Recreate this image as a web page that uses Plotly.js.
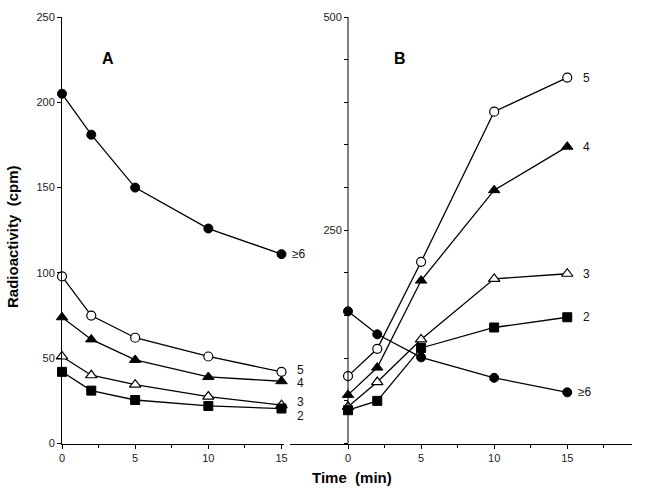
<!DOCTYPE html>
<html>
<head>
<meta charset="utf-8">
<script src="https://cdn.plot.ly/plotly-3.0.1.min.js"></script>
<style>html,body{margin:0;padding:0;background:#fff;}#chart{width:647px;height:496px;}</style>
</head>
<body>
<div id="chart"></div>
<script>
// Time points (min)
const time = [0, 2, 5, 10, 15];

// Panel A
const A_ge6 = [205, 181, 150, 126, 111];
const A_5   = [98, 75, 62, 51, 42];
const A_4   = [74, 61, 49, 39, 36.5];
const A_3   = [51, 40, 34.5, 27.5, 22.5];
const A_2   = [42, 31, 25.5, 22, 20.5];

// Panel B
const B_ge6 = [155, 128, 101, 77, 60];
const B_5   = [79, 111, 213, 389, 429];
const B_4   = [57, 89, 191, 297, 348];
const B_3   = [43, 72, 122, 193, 199];
const B_2   = [39, 50, 112, 136, 148];

const seriesNames = ['≥6', '5', '4', '3', '2'];
const panelA = [A_ge6, A_5, A_4, A_3, A_2];
const panelB = [B_ge6, B_5, B_4, B_3, B_2];

const markerStyles = [
  {symbol: 'circle', color: '#000', line: {color: '#000', width: 1}, size: 9},
  {symbol: 'circle', color: '#fff', line: {color: '#000', width: 1.2}, size: 9},
  {symbol: 'triangle-up', color: '#000', line: {color: '#000', width: 1}, size: 10},
  {symbol: 'triangle-up', color: '#fff', line: {color: '#000', width: 1.2}, size: 10},
  {symbol: 'square', color: '#000', line: {color: '#000', width: 1}, size: 9}
];

const traces = [];
panelA.forEach((vals, i) => traces.push({
  x: time, y: vals, xaxis: 'x', yaxis: 'y', mode: 'lines+markers', name: 'A ' + seriesNames[i],
  line: {color: '#000', width: 1.3}, marker: markerStyles[i], showlegend: false, cliponaxis: false
}));
panelB.forEach((vals, i) => traces.push({
  x: time, y: vals, xaxis: 'x2', yaxis: 'y2', mode: 'lines+markers', name: 'B ' + seriesNames[i],
  line: {color: '#000', width: 1.3}, marker: markerStyles[i], showlegend: false, cliponaxis: false
}));

const tickFont = {family: 'Liberation Sans, Arial, sans-serif', size: 11, color: '#222'};
const labelFont = {family: 'Liberation Sans, Arial, sans-serif', size: 12, color: '#111'};

// Series end labels
const annA_shift = [0, 2, -2, 3, -7];
const annB_shift = [0, 0, 0, 0, 0];
const annotations = [];
panelA.forEach((vals, i) => annotations.push({
  x: time[time.length - 1], y: vals[vals.length - 1], xref: 'x', yref: 'y',
  text: seriesNames[i], showarrow: false, xanchor: 'left', yanchor: 'middle', xshift: i === 0 ? 8 : 13,
  yshift: annA_shift[i], font: labelFont
}));
panelB.forEach((vals, i) => annotations.push({
  x: time[time.length - 1], y: vals[vals.length - 1], xref: 'x2', yref: 'y2',
  text: seriesNames[i], showarrow: false, xanchor: 'left', yanchor: 'middle', xshift: i === 0 ? 9 : 14,
  yshift: annB_shift[i], font: labelFont
}));
annotations.push({x: 108, y: 58, xref: 'paper', yref: 'paper', text: '<b>A</b>', showarrow: false,
  font: {family: 'Liberation Sans, Arial, sans-serif', size: 16, color: '#000'}});
annotations.push({x: 400, y: 58, xref: 'paper', yref: 'paper', text: '<b>B</b>', showarrow: false,
  font: {family: 'Liberation Sans, Arial, sans-serif', size: 16, color: '#000'}});
annotations.push({x: 352, y: 477, xref: 'paper', yref: 'paper', text: '<b>Time  (min)</b>', showarrow: false,
  font: {family: 'Liberation Sans, Arial, sans-serif', size: 15, color: '#000'}});
annotations.push({x: 13, y: 237, xref: 'paper', yref: 'paper', text: '<b>Radioactivity  (cpm)</b>', showarrow: false,
  textangle: -90, font: {family: 'Liberation Sans, Arial, sans-serif', size: 15, color: '#000'}});

// convert pixel positions of paper annotations to paper fractions
const W = 647, H = 496;
annotations.forEach(a => {
  if (a.xref === 'paper') {
    a.x = a.x / W; a.y = 1 - a.y / H;
    a.xanchor = 'center'; a.yanchor = 'middle';
  }
});

const axisCommon = {
  showgrid: false, zeroline: false, showline: true, linecolor: '#000', linewidth: 1,
  ticks: 'outside', tickcolor: '#000', ticklen: 4, tickwidth: 1, tickfont: tickFont
};

const yBottom = 443.5, yTop = 17;
const layout = {
  width: W, height: H,
  margin: {l: 0, r: 0, t: 0, b: 0},
  paper_bgcolor: '#fff', plot_bgcolor: 'rgba(0,0,0,0)',
  showlegend: false,
  xaxis: Object.assign({}, axisCommon, {
    domain: [62 / W, 284 / W], range: [0, 15.17],
    tickvals: [0, 5, 10, 15], ticktext: ['0', '5', '10', '15'],
    minor: {tickvals: [2.5, 7.5, 12.5], ticks: 'outside', ticklen: 3, tickcolor: '#000'},
    anchor: 'y'
  }),
  yaxis: Object.assign({}, axisCommon, {
    domain: [1 - yBottom / H, 1 - yTop / H], range: [0, 250],
    tickvals: [0, 50, 100, 150, 200, 250], anchor: 'x'
  }),
  xaxis2: Object.assign({}, axisCommon, {
    domain: [290 / W, 632 / W], range: [-3.97, 19.43],
    tickvals: [0, 5, 10, 15], ticktext: ['0', '5', '10', '15'],
    minor: {tickvals: [2.5, 7.5, 12.5, 17.5], ticks: 'outside', ticklen: 3, tickcolor: '#000'},
    anchor: 'y2'
  }),
  yaxis2: Object.assign({}, axisCommon, {
    domain: [1 - yBottom / H, 1 - yTop / H], range: [0, 500],
    tickvals: [250, 500], showline: false,
    minor: {dtick: 50, ticks: 'outside', ticklen: 4, tickcolor: '#000', tick0: 0},
    anchor: 'free', position: 348 / W
  }),
  shapes: [
    {type: 'line', xref: 'x2', yref: 'y2', x0: 0, x1: 0, y0: 0, y1: 500, line: {color: '#000', width: 1}}
  ],
  annotations: annotations
};

Plotly.newPlot('chart', traces, layout, {displayModeBar: false, staticPlot: true});
</script>
</body>
</html>
